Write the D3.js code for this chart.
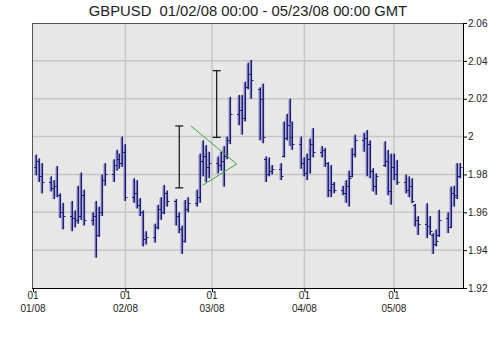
<!DOCTYPE html>
<html>
<head>
<meta charset="utf-8">
<script src="https://cdn.jsdelivr.net/npm/d3@7"></script>
<style>
  html, body { margin: 0; padding: 0; background: #fff; }
  svg { display: block; font-family: "Liberation Sans", Arial, sans-serif; }
</style>
</head>
<body>
<div id="chart"></div>
<script>
// GBPUSD daily OHLC, Jan 2 - May 23 2008
const tradingDays = {
  "2008-01": [2,3,4,7,8,9,10,11,14,15,16,17,18,21,22,23,24,25,28,29,30,31],
  "2008-02": [1,4,5,6,7,8,11,12,13,14,15,18,19,20,21,22,25,26,27,28,29],
  "2008-03": [3,4,5,6,7,10,11,12,13,14,17,18,19,20,21,24,25,26,27,28,31],
  "2008-04": [1,2,3,4,7,8,9,10,11,14,15,16,17,18,21,22,23,24,25,28,29,30],
  "2008-05": [1,2,5,6,7,8,9,12,13,14,15,16,19,20,21,22,23]
};

const opens = [
  1.9840,1.9870,1.9790,1.9760,1.9730,1.9740,1.9690,1.9600,1.9580,1.9570,1.9560,1.9580,1.9690,1.9560,1.9580,1.9480,1.9600,1.9770,1.9800,1.9850,1.9880,1.9860,
  1.9920,1.9680,1.9700,1.9640,1.9600,1.9460,1.9470,1.9520,1.9620,1.9600,1.9700,1.9660,1.9580,1.9510,1.9450,1.9620,1.9650,1.9680,1.9870,1.9900,1.9840,
  1.9860,1.9850,1.9870,1.9900,1.9980,2.0120,2.0140,2.0100,2.0260,2.0330,2.0250,2.0200,1.9880,1.9800,1.9820,1.9830,1.9900,1.9990,2.0060,2.0000,1.9960,
  1.9860,1.9810,1.9880,1.9960,1.9920,1.9930,1.9860,1.9720,1.9750,1.9720,1.9700,1.9740,1.9790,1.9910,1.9980,1.9990,1.9960,1.9820,1.9740,1.9850,1.9870,1.9710,
  1.9840,1.9800,1.9760,1.9720,1.9740,1.9640,1.9560,1.9540,1.9530,1.9480,1.9430,1.9480,1.9570,1.9520,1.9700,1.9690,1.9790
];
const highs = [
  1.9905,1.9885,1.9860,1.9790,1.9770,1.9845,1.9700,1.9650,1.9660,1.9610,1.9740,1.9810,1.9720,1.9600,1.9660,1.9630,1.9800,1.9860,1.9880,1.9930,1.9910,2.0000,
  1.9960,1.9780,1.9770,1.9675,1.9610,1.9500,1.9540,1.9640,1.9680,1.9745,1.9715,1.9670,1.9600,1.9530,1.9665,1.9680,1.9720,1.9910,1.9980,1.9955,1.9920,
  1.9895,1.9920,1.9950,2.0000,2.0210,2.0220,2.0220,2.0290,2.0390,2.0405,2.0260,2.0280,1.9895,1.9890,1.9850,1.9860,2.0080,2.0120,2.0200,2.0080,2.0000,
  1.9890,1.9910,1.9990,2.0045,1.9950,1.9940,1.9865,1.9850,1.9760,1.9740,1.9770,1.9820,1.9940,2.0010,2.0020,2.0035,1.9980,1.9833,1.9806,1.9975,1.9930,1.9910,
  1.9910,1.9877,1.9800,1.9790,1.9780,1.9645,1.9580,1.9648,1.9580,1.9490,1.9510,1.9613,1.9600,1.9736,1.9740,1.9860,1.9860
];
const lows = [
  1.9795,1.9760,1.9700,1.9710,1.9670,1.9680,1.9570,1.9510,1.9500,1.9520,1.9540,1.9560,1.9530,1.9530,1.9360,1.9470,1.9580,1.9740,1.9760,1.9820,1.9830,1.9840,
  1.9660,1.9650,1.9620,1.9580,1.9420,1.9430,1.9440,1.9510,1.9560,1.9590,1.9630,1.9530,1.9490,1.9380,1.9440,1.9600,1.9630,1.9650,1.9790,1.9760,1.9780,
  1.9805,1.9820,1.9735,1.9880,1.9960,2.0060,2.0010,2.0080,2.0250,2.0200,1.9980,1.9965,1.9760,1.9790,1.9800,1.9770,1.9890,1.9980,1.9950,1.9930,1.9830,
  1.9790,1.9770,1.9805,1.9890,1.9890,1.9840,1.9680,1.9680,1.9700,1.9690,1.9650,1.9630,1.9785,1.9890,1.9920,1.9790,1.9780,1.9710,1.9692,1.9840,1.9690,1.9640,
  1.9770,1.9745,1.9700,1.9680,1.9648,1.9525,1.9480,1.9463,1.9480,1.9380,1.9420,1.9470,1.9490,1.9516,1.9630,1.9670,1.9780
];
const closes = [
  1.9870,1.9790,1.9760,1.9730,1.9740,1.9690,1.9600,1.9580,1.9570,1.9560,1.9580,1.9690,1.9560,1.9580,1.9480,1.9600,1.9770,1.9800,1.9850,1.9880,1.9860,1.9920,
  1.9680,1.9700,1.9640,1.9600,1.9460,1.9470,1.9520,1.9620,1.9600,1.9700,1.9660,1.9580,1.9510,1.9450,1.9620,1.9650,1.9680,1.9870,1.9900,1.9840,1.9860,
  1.9850,1.9870,1.9900,1.9980,2.0120,2.0140,2.0100,2.0260,2.0330,2.0300,2.0200,2.0000,1.9800,1.9820,1.9830,1.9790,1.9990,2.0060,2.0000,1.9960,1.9860,
  1.9810,1.9880,1.9960,1.9920,1.9930,1.9860,1.9720,1.9750,1.9720,1.9700,1.9740,1.9780,1.9910,1.9980,1.9990,1.9960,1.9820,1.9740,1.9790,1.9870,1.9710,1.9840,
  1.9800,1.9760,1.9720,1.9740,1.9660,1.9560,1.9540,1.9530,1.9500,1.9430,1.9450,1.9560,1.9520,1.9700,1.9680,1.9790,1.9840
];

const yTicks = [1.92, 1.94, 1.96, 1.98, 2, 2.02, 2.04, 2.06];
const xTickDates = ["2008-01-01", "2008-02-01", "2008-03-01", "2008-04-01", "2008-05-01"];
const xTickDay = ["01", "01", "01", "01", "01"];
const xTickMonth = ["01/08", "02/08", "03/08", "04/08", "05/08"];

// drawn annotations: two high/low range markers and a converging pair of lines
const rangeMarks = [
  { date: "2008-02-19T01:00", high: 2.0056, low: 1.9729 },
  { date: "2008-03-02T14:00", high: 2.0348, low: 1.9996 }
];
const trendLines = [
  [["2008-02-22T23:00", 2.0056], ["2008-03-09T07:00", 1.9855]],
  [["2008-02-26T21:00", 1.9743], ["2008-03-09T07:00", 1.9855]]
];

const titleText = "GBPUSD  01/02/08 00:00 - 05/23/08 00:00 GMT";

const W = 500, H = 343;
const plot = { left: 32, right: 463, top: 23, bottom: 288 };

const parseDay = d3.timeParse("%Y-%m-%d");
const parseStamp = d3.timeParse("%Y-%m-%dT%H:%M");

const dates = [];
Object.entries(tradingDays).forEach(([month, days]) => {
  days.forEach(d => dates.push(parseDay(month + "-" + String(d).padStart(2, "0"))));
});
const bars = dates.map((d, i) => ({ date: d, o: opens[i], h: highs[i], l: lows[i], c: closes[i] }));

const x = d3.scaleTime()
  .domain([parseDay("2008-01-01"), parseDay("2008-05-24")])
  .range([33, 462.5]);
const y = d3.scaleLinear()
  .domain([1.92, 2.06])
  .range([plot.bottom, plot.top]);

const svg = d3.select("#chart").append("svg")
  .attr("width", W)
  .attr("height", H);

// title (keep the double space)
svg.append("text")
  .attr("x", 248)
  .attr("y", 16)
  .attr("text-anchor", "middle")
  .attr("font-size", 14.8)
  .attr("fill", "#222")
  .style("white-space", "pre")
  .text(titleText);

// plot background
svg.append("rect")
  .attr("x", plot.left)
  .attr("y", plot.top)
  .attr("width", plot.right - plot.left)
  .attr("height", plot.bottom - plot.top)
  .attr("fill", "#e7e7e7");

// grid
const grid = svg.append("g").attr("stroke", "#c6c6c6").attr("stroke-width", 1.5);
grid.selectAll("line.h")
  .data(yTicks.slice(1, -1))
  .join("line")
  .attr("class", "h")
  .attr("x1", plot.left).attr("x2", plot.right)
  .attr("y1", d => y(d)).attr("y2", d => y(d));
grid.selectAll("line.v")
  .data(xTickDates.slice(1))
  .join("line")
  .attr("class", "v")
  .attr("x1", d => x(parseDay(d))).attr("x2", d => x(parseDay(d)))
  .attr("y1", plot.top).attr("y2", plot.bottom);

// frame (left & top)
svg.append("line")
  .attr("x1", plot.left + 0.5).attr("x2", plot.left + 0.5)
  .attr("y1", plot.top).attr("y2", plot.bottom)
  .attr("stroke", "#555");
svg.append("line")
  .attr("x1", plot.left).attr("x2", plot.right)
  .attr("y1", plot.top + 0.5).attr("y2", plot.top + 0.5)
  .attr("stroke", "#555");

// OHLC bars, with a soft bluish halo on the left like the original renderer
const barG = svg.append("g");
const bar = barG.selectAll("g")
  .data(bars)
  .join("g")
  .attr("transform", d => `translate(${Math.round(x(d.date))},0)`);
bar.append("line")
  .attr("stroke", "#9090c4")
  .attr("stroke-width", 1)
  .attr("x1", -1).attr("x2", -1)
  .attr("y1", d => y(d.h) + 1).attr("y2", d => y(d.l));
bar.append("line")
  .attr("stroke", "#1e1e7c")
  .attr("stroke-width", 1.6)
  .attr("x1", 0.3).attr("x2", 0.3)
  .attr("y1", d => y(d.h)).attr("y2", d => y(d.l));
bar.append("line")
  .attr("stroke", "#1e1e7c")
  .attr("stroke-width", 1)
  .attr("x1", -2).attr("x2", 0)
  .attr("y1", d => Math.round(y(d.o)) + 0.5).attr("y2", d => Math.round(y(d.o)) + 0.5);
bar.append("line")
  .attr("stroke", "#1e1e7c")
  .attr("stroke-width", 1)
  .attr("x1", 0).attr("x2", 2.5)
  .attr("y1", d => Math.round(y(d.c)) + 0.5).attr("y2", d => Math.round(y(d.c)) + 0.5);

// range markers
const rm = svg.append("g").attr("stroke", "#111").attr("stroke-width", 1.2);
rangeMarks.forEach(m => {
  const cx = x(parseStamp(m.date));
  rm.append("line").attr("x1", cx).attr("x2", cx).attr("y1", y(m.high)).attr("y2", y(m.low));
  rm.append("line").attr("x1", cx - 4).attr("x2", cx + 4).attr("y1", y(m.high)).attr("y2", y(m.high));
  rm.append("line").attr("x1", cx - 4).attr("x2", cx + 4).attr("y1", y(m.low)).attr("y2", y(m.low));
});

// trend lines
const lineGen = d3.line()
  .x(p => x(parseStamp(p[0])))
  .y(p => y(p[1]));
svg.append("g")
  .selectAll("path")
  .data(trendLines)
  .join("path")
  .attr("d", lineGen)
  .attr("fill", "none")
  .attr("stroke", "#3aa83a")
  .attr("stroke-width", 1);

// right axis
const yAxis = d3.axisRight(y)
  .tickValues(yTicks)
  .tickFormat(d => String(d))
  .tickSize(4)
  .tickSizeOuter(0);
const ya = svg.append("g")
  .attr("transform", `translate(${plot.right},0)`)
  .call(yAxis);
ya.select(".domain").attr("stroke", "#000");
ya.selectAll(".tick line").attr("stroke", "#000");
ya.selectAll(".tick text")
  .attr("x", 5)
  .attr("font-size", 10)
  .attr("font-family", "Liberation Sans, Arial, sans-serif")
  .attr("fill", "#222");

// bottom axis
const xAxis = d3.axisBottom(x)
  .tickValues(xTickDates.map(parseDay))
  .tickFormat("")
  .tickSize(4)
  .tickSizeOuter(0);
const xa = svg.append("g")
  .attr("transform", `translate(0,${plot.bottom})`)
  .call(xAxis);
xa.select(".domain").attr("stroke", "#000").attr("d", `M${plot.left},0.5H${plot.right}`);
xa.selectAll(".tick line").attr("stroke", "#000");

const labels = svg.append("g")
  .attr("font-size", 10)
  .attr("fill", "#222")
  .attr("text-anchor", "middle");
labels.selectAll("text.day")
  .data(xTickDates)
  .join("text")
  .attr("class", "day")
  .attr("x", d => x(parseDay(d)))
  .attr("y", 299)
  .text((d, i) => xTickDay[i]);
labels.selectAll("text.mon")
  .data(xTickDates)
  .join("text")
  .attr("class", "mon")
  .attr("x", d => x(parseDay(d)))
  .attr("y", 312)
  .text((d, i) => xTickMonth[i]);
</script>
</body>
</html>
